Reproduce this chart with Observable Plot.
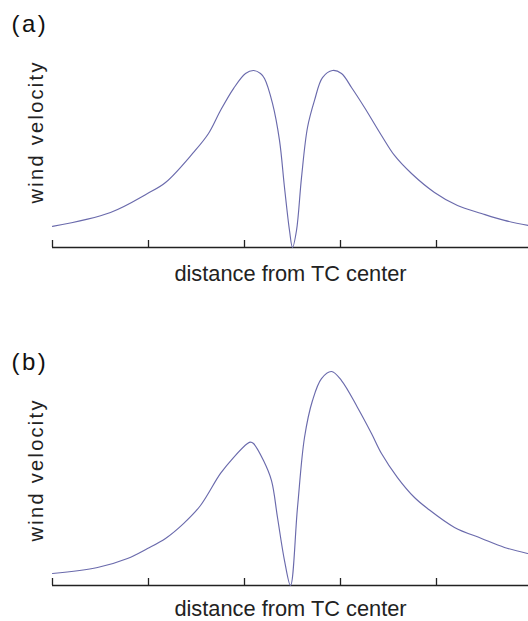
<!DOCTYPE html>
<html>
<head>
<meta charset="utf-8">
<script src="https://cdn.jsdelivr.net/npm/d3@7"></script>
<script src="https://cdn.jsdelivr.net/npm/@observablehq/plot@0.6"></script>
<style>
  html, body { margin: 0; padding: 0; background: #fff; }
  #chart svg { display: block; }
</style>
</head>
<body>
<div id="chart"></div>
<script>
// Panel (a): symmetric profile
const distA  = [-240,-182,-145,-127,-99,-84,-72,-59,-47,-39,-32,-28,-20,-13,-8,-3,0,4,9,15,22,30,40,49,59,72,89,102,119,142,165,189,212,236];
const speedA = [0.119,0.198,0.305,0.367,0.537,0.644,0.774,0.898,0.983,1.0,0.983,0.955,0.814,0.605,0.339,0.096,0,0.096,0.395,0.678,0.831,0.960,1.0,0.983,0.904,0.791,0.633,0.520,0.418,0.311,0.237,0.192,0.153,0.124];
// Panel (b): asymmetric profile
const distB  = [-240,-195,-165,-145,-127,-109,-92,-72,-59,-45,-42,-39,-29,-21,-15,-8,-2,5,12,20,29,39,49,65,79,89,105,122,135,162,189,212,235];
const speedB = [0.068,0.102,0.153,0.209,0.266,0.350,0.452,0.633,0.723,0.802,0.81,0.802,0.706,0.593,0.384,0.141,0,0.441,0.836,1.045,1.169,1.209,1.158,1.006,0.859,0.746,0.610,0.497,0.435,0.328,0.266,0.215,0.181];
const xTicks = [-240,-144,-48,48,144];
const panelLabels = ["(a)", "(b)"];
const xLabel = "distance from TC center";
const yLabel = "wind velocity";

const font = "'Liberation Sans', Arial, Helvetica, sans-serif";

function panel(dist, speed, tag, opts) {
  const data = dist.map((d, i) => ({d, v: speed[i]}));
  const svg = Plot.plot({
    width: 528,
    height: opts.height,
    marginLeft: 52,
    marginRight: 0,
    marginTop: opts.marginTop,
    marginBottom: opts.marginBottom,
    style: {fontFamily: font, background: "#fff", color: "#111"},
    x: {domain: [-240, 236], axis: null},
    y: {domain: [0, 1.25], axis: null},
    marks: [
      Plot.ruleY([0], {stroke: "#222", strokeWidth: 1.6}),
      Plot.axisX({ticks: xTicks, tickSize: -7, tickFormat: () => "", stroke: "#222", strokeWidth: 1.3, label: null}),
      Plot.line(data, {x: "d", y: "v", stroke: "#6a6aac", strokeWidth: 1.15, curve: "catmull-rom"}),
      Plot.text([tag], {text: d => d, frameAnchor: "top-left", textAnchor: "start", lineAnchor: "top", dx: -41, dy: -11, fontSize: 24, fill: "#111"}),
      Plot.text([yLabel], {text: d => d, frameAnchor: "left", rotate: -90, textAnchor: "middle", lineAnchor: "middle", dx: -15.5, dy: -5, fontSize: 20, fill: "#222"}),
      Plot.text([xLabel], {text: d => d, frameAnchor: "bottom", textAnchor: "middle", lineAnchor: "bottom", dy: opts.labelDy, fontSize: 21.8, fill: "#222"})
    ]
  });
  d3.select(svg).selectAll("text").each(function () {
    const t = this.textContent;
    if (t === yLabel) this.setAttribute("letter-spacing", "2.3px");
    else if (t === tag) this.setAttribute("letter-spacing", "2.5px");
  });
  return svg;
}

const chart = document.getElementById("chart");
chart.append(panel(distA, speedA, panelLabels[0], {height: 300, marginTop: 25.75, marginBottom: 53, labelDy: 33}));
chart.append(panel(distB, speedB, panelLabels[1], {height: 321, marginTop: 63.75, marginBottom: 36, labelDy: 30}));
</script>
</body>
</html>
